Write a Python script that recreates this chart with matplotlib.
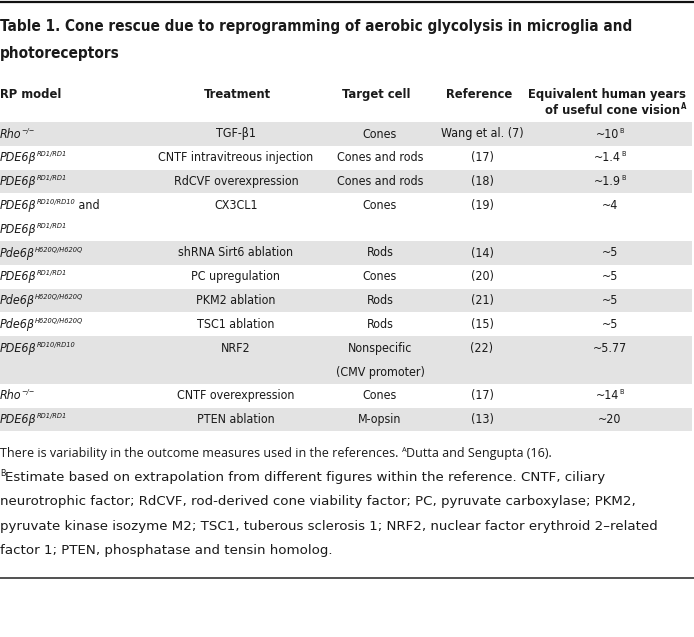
import re
import matplotlib
matplotlib.use('Agg')
import matplotlib.pyplot as plt
from matplotlib import font_manager

# narrow face if the system has one, otherwise plain DejaVu
have_cond = any(f.name == 'DejaVu Sans' and 'condensed' in str(f.stretch)
                for f in font_manager.fontManager.ttflist)
plt.rcParams['font.family'] = ['DejaVu Sans']
plt.rcParams['font.stretch'] = 'condensed' if have_cond else 'normal'
k = 1.0 if have_cond else 0.9

title = ['Table 1. Cone rescue due to reprogramming of aerobic glycolysis in microglia and',
         'photoreceptors']
headers = ['RP model', 'Treatment', 'Target cell', 'Reference',
           'Equivalent human years\nof useful cone vision^{A}']

# ^{..} = superscript, @{..} = upright inside an italic cell
rp_models = ['Rho^{−/−}',
             'PDE6β^{RD1/RD1}',
             'PDE6β^{RD1/RD1}',
             'PDE6β^{RD10/RD10}@{ and}\nPDE6β^{RD1/RD1}',
             'Pde6β^{H620Q/H620Q}',
             'PDE6β^{RD1/RD1}',
             'Pde6β^{H620Q/H620Q}',
             'Pde6β^{H620Q/H620Q}',
             'PDE6β^{RD10/RD10}',
             'Rho^{−/−}',
             'PDE6β^{RD1/RD1}']
treatments = ['TGF-β1', 'CNTF intravitreous injection', 'RdCVF overexpression', 'CX3CL1',
              'shRNA Sirt6 ablation', 'PC upregulation', 'PKM2 ablation', 'TSC1 ablation',
              'NRF2', 'CNTF overexpression', 'PTEN ablation']
target_cells = ['Cones', 'Cones and rods', 'Cones and rods', 'Cones', 'Rods', 'Cones', 'Rods',
                'Rods', 'Nonspecific\n(CMV promoter)', 'Cones', 'M-opsin']
references = ['Wang et al. (7)', '(17)', '(18)', '(19)', '(14)', '(20)', '(21)', '(15)',
              '(22)', '(17)', '(13)']
years = ['~10^{B}', '~1.4^{B}', '~1.9^{B}', '~4', '~5', '~5', '~5', '~5', '~5.77',
         '~14^{B}', '~20']
footnotes = ['There is variability in the outcome measures used in the references. ^{A}Dutta and Sengupta (16).',
             '^{B}Estimate based on extrapolation from different figures within the reference. CNTF, ciliary',
             'neurotrophic factor; RdCVF, rod-derived cone viability factor; PC, pyruvate carboxylase; PKM2,',
             'pyruvate kinase isozyme M2; TSC1, tuberous sclerosis 1; NRF2, nuclear factor erythroid 2–related',
             'factor 1; PTEN, phosphatase and tensin homolog.']

W, H = 694, 637
fig = plt.figure(figsize=(W / 100, H / 100), dpi=100)
ax = fig.add_axes([0, 0, 1, 1])
ax.set_xlim(0, W)
ax.set_ylim(H, 0)
ax.axis('off')
renderer = fig.canvas.get_renderer()
txt = '#1a1a1a'


def rich(x, y, s, size, ha='left', style='normal', **kw):
    # draw one line with superscripts, y is the baseline in pixels
    parts = re.split(r'(\^\{[^}]*\}|@\{[^}]*\})', s)
    items = []
    for p in parts:
        if not p:
            continue
        if p.startswith('^{'):
            t = ax.text(0, y - size * 0.55, p[2:-1], fontsize=size * 0.6, style=style,
                        color=txt, va='baseline', **kw)
        elif p.startswith('@{'):
            t = ax.text(0, y, p[2:-1], fontsize=size, color=txt, va='baseline', **kw)
        else:
            t = ax.text(0, y, p, fontsize=size, style=style, color=txt, va='baseline', **kw)
        items.append(t)
    widths = [t.get_window_extent(renderer).width for t in items]
    total = sum(widths)
    x0 = {'left': x, 'center': x - total / 2, 'right': x - total}[ha]
    for t, w in zip(items, widths):
        t.set_x(x0)
        x0 += w


ax.plot([0, W], [2, 2], color='#111111', lw=1.6)

for i, line in enumerate(title):
    ax.text(0, 31 + i * 27, line, fontsize=10.95 * k, fontweight='bold', color=txt, va='baseline')

# header
hy = 98
hs = 9.3 * k
ax.text(0, hy, headers[0], fontsize=hs, fontweight='bold', color=txt, va='baseline')
ax.text(237, hy, headers[1], fontsize=hs, fontweight='bold', color=txt, va='baseline', ha='center')
ax.text(376, hy, headers[2], fontsize=hs, fontweight='bold', color=txt, va='baseline', ha='center')
ax.text(479, hy, headers[3], fontsize=hs, fontweight='bold', color=txt, va='baseline', ha='center')
for j, part in enumerate(headers[4].split('\n')):
    rich(686, hy + 16.5 * j, part, hs, ha='right', fontweight='bold')

# body rows
pitch = 23.8
top = 122
col_x = [0, 236, 380, 482, 610]
fs = 8.9 * k
for i in range(len(rp_models)):
    nlines = max(rp_models[i].count('\n'), target_cells[i].count('\n')) + 1
    h = nlines * pitch
    if i % 2 == 0:
        ax.axhspan(top, top + h, xmin=0, xmax=692 / W, color='#e3e3e3', lw=0)
    base = top + 15.5
    for j, part in enumerate(rp_models[i].split('\n')):
        rich(col_x[0], base + j * pitch, part, fs, style='italic')
    ax.text(col_x[1], base, treatments[i], fontsize=fs, color=txt, va='baseline', ha='center')
    for j, part in enumerate(target_cells[i].split('\n')):
        ax.text(col_x[2], base + j * pitch, part, fontsize=fs, color=txt, va='baseline', ha='center')
    ax.text(col_x[3], base, references[i], fontsize=fs, color=txt, va='baseline', ha='center')
    rich(col_x[4], base, years[i], fs, ha='center')
    top += h

# footnotes
fy = 457
rich(0, fy, footnotes[0], 9.0, family=['Open Sans', 'DejaVu Sans'], fontstretch='normal')
for j, line in enumerate(footnotes[1:]):
    rich(0, fy + 24.2 * (j + 1), line, 9.6, fontstretch='normal')

ax.plot([0, W], [578, 578], color='#333333', lw=1.2)

fig.savefig('out.png', dpi=100)
